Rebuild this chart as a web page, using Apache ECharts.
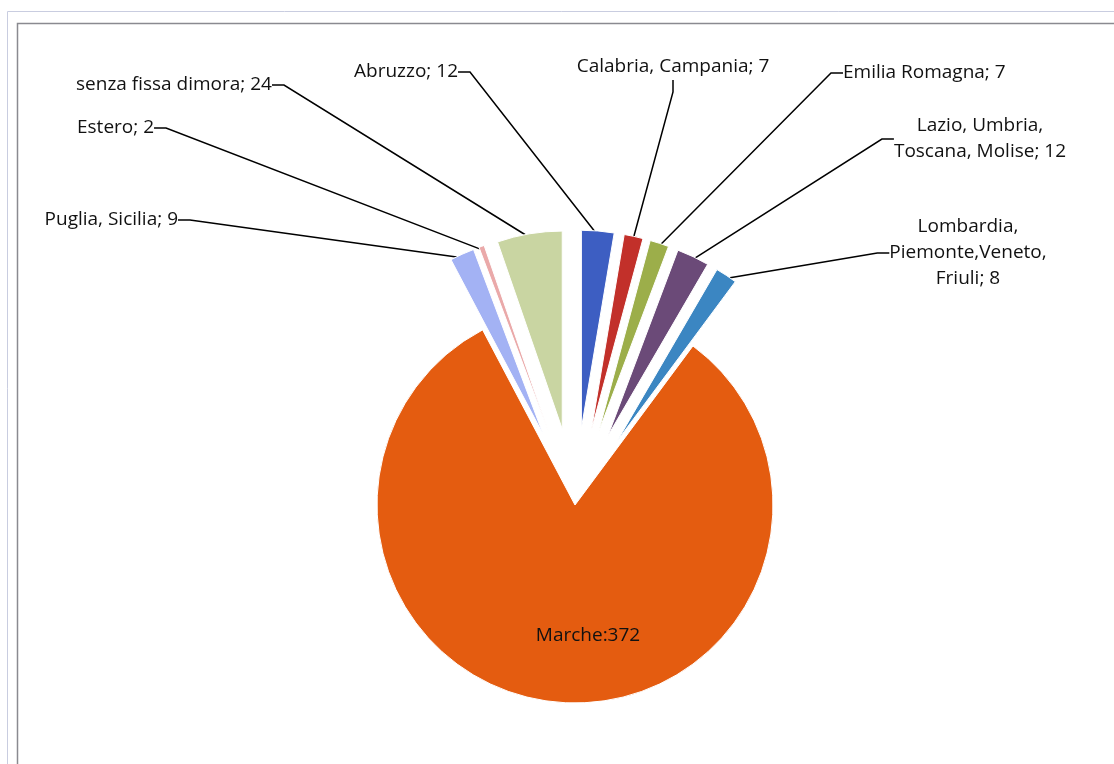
<!DOCTYPE html>
<html>
<head>
<meta charset="utf-8">
<script src="https://cdn.jsdelivr.net/npm/echarts@6/dist/echarts.min.js"></script>
<style>
  html, body { margin: 0; padding: 0; background: #fff; }
  #chart { width: 1114px; height: 764px; }
</style>
</head>
<body>
<div id="chart"></div>
<script>
// regioni di provenienza (ordine del grafico, in senso orario dall'alto)
const regioni = ['Abruzzo', 'Calabria, Campania', 'Emilia Romagna', 'Lazio, Umbria,\nToscana, Molise',
  'Lombardia,\nPiemonte,Veneto,\nFriuli', 'Marche', 'Puglia, Sicilia', 'Estero', 'senza fissa dimora'];
const pazienti = [12, 7, 7, 12, 8, 372, 9, 2, 24];
const separatori = ['; ', '; ', '; ', '; ', '; ', ':', '; ', '; ', '; '];

const colori = ['#3d5ec2', '#c2302a', '#9cae4a', '#6b4a78', '#3b86c2', '#e45c10', '#a3b2f4', '#eaa9a9', '#c9d5a2'];

// posizione etichette [x, y, allineamento]
const posEtichette = [
  [458, 72, 'right'], [673, 67, 'center'], [843, 73, 'left'], [980, 139, 'center'],
  [968, 253, 'center'], [588, 636, 'center'], [178, 220, 'right'], [77, 128, 'left'], [76, 85, 'left']
];

const MARCHE = 5;
const chart = echarts.init(document.getElementById('chart'));

// spicchi: Marche fermo, gli altri esplosi
const spicchi = regioni.map((r, i) => ({
  name: r,
  value: pazienti[i],
  selected: i !== MARCHE,
  itemStyle: {color: colori[i]}
}));

// serie invisibile che regge solo etichette e linee
const etichette = regioni.map((r, i) => ({
  name: r,
  value: pazienti[i],
  labelLine: {show: i !== MARCHE}
}));

const option = {
  animation: false,
  graphic: [
    {type: 'rect', shape: {x: 7.5, y: 11.5, width: 1200, height: 900}, style: {fill: 'none', stroke: '#c9cde0', lineWidth: 1}},
    {type: 'rect', shape: {x: 17.5, y: 23.5, width: 1200, height: 900}, style: {fill: 'none', stroke: '#8a8a90', lineWidth: 1.5}}
  ],
  series: [
    {
      type: 'pie',
      center: [575, 505],
      radius: 198,
      startAngle: 90,
      clockwise: true,
      selectedMode: 'multiple',
      selectedOffset: 77,
      emphasis: {disabled: true},
      itemStyle: {borderColor: '#fff', borderWidth: 1},
      label: {show: false},
      labelLine: {show: false},
      data: spicchi
    },
    {
      type: 'pie',
      center: [575, 505],
      radius: 271,
      startAngle: 90,
      clockwise: true,
      silent: true,
      avoidLabelOverlap: false,
      emphasis: {disabled: true},
      itemStyle: {color: 'rgba(0,0,0,0)'},
      label: {
        color: '#111',
        fontFamily: 'Open Sans',
        fontSize: 19,
        lineHeight: 26,
        formatter: p => p.name + separatori[p.dataIndex] + p.value
      },
      labelLine: {
        length2: 12,
        lineStyle: {color: '#000', width: 1.5}
      },
      labelLayout: p => {
        const pos = posEtichette[p.dataIndex];
        return {x: pos[0], y: pos[1], align: pos[2], verticalAlign: 'middle'};
      },
      data: etichette
    }
  ]
};

chart.setOption(option);
</script>
</body>
</html>
